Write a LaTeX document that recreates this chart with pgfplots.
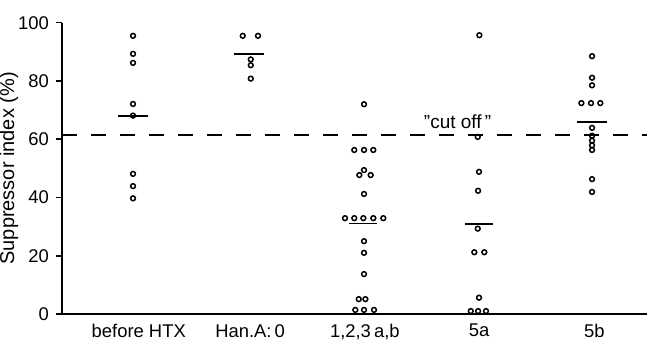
\documentclass[border=0pt]{standalone}
\usepackage{fontspec}
\setmainfont{Liberation Sans}
\usepackage{pgfplots}
\pgfplotsset{compat=1.18}
\begin{document}
\begin{tikzpicture}
\begin{axis}[
  scale only axis,
  width=292.5pt, height=145.65pt,
  xmin=-0.619, xmax=4.479, ymin=0, ymax=100,
  axis x line=bottom, axis y line=left,
  axis line style={-, line width=0.8pt},
  xtick={0.05,1.02,2.02,3.015,4.02},
  xticklabels={before HTX, Han.A:\,0, {1,2,3\,a,b}, 5a, 5b},
  xtick style={draw=none},
  ytick={0,20,40,60,80,100},
  tick align=outside,
  major tick length=3pt,
  ytick style={line width=0.8pt, black},
  tick label style={font=\fontsize{9.2}{10}\selectfont},
  xticklabel style={yshift=1.4pt},
  /pgf/number format/assume math mode=true,
  ylabel={Suppressor index (\%)},
  ylabel style={at={(axis description cs:-0.082,0.5)}, anchor=base, rotate=0, font=\fontsize{10}{12}\selectfont},
  clip=false,
  every axis plot/.append style={black},
]
% cut-off line
\addplot[line width=0.7pt, dash pattern=on 7.5pt off 7pt] coordinates {(-0.619,61.5) (4.479,61.5)};
\node[anchor=base, font=\fontsize{9.5}{10}\selectfont] at (axis cs:2.828,63.7) {"cut off\,"};
% group means
\addplot[line width=0.75pt] coordinates {(-0.13,68) (0.13,68)};
\addplot[line width=0.75pt] coordinates {(0.88,89.2) (1.14,89.2)};
\addplot[line width=0.75pt] coordinates {(1.882,31.1) (2.126,31.1)};
\addplot[line width=0.75pt] coordinates {(2.893,30.9) (3.135,30.9)};
\addplot[line width=0.75pt] coordinates {(3.87,65.9) (4.13,65.9)};
% individual values
\pgfplotsset{dots/.style={only marks, mark=o, mark size=1.2pt, mark options={line width=0.75pt}}}
\addplot[dots] coordinates {
 (0,95.5) (0,89.3) (0,86.2) (0,72.1) (0,68.1) (0,48.1) (0,43.9) (0,39.7)};
\addplot[dots] coordinates {
 (0.956,95.5) (1.089,95.5) (1.026,87.4) (1.026,85.4) (1.026,80.8)};
\addplot[dots] coordinates {
 (2.013,72.0)
 (1.928,56.3) (2.013,56.3) (2.094,56.3)
 (1.972,47.7) (2.013,49.4) (2.071,47.7)
 (2.013,41.2)
 (1.847,32.9) (1.928,32.9) (2.007,32.9) (2.094,32.9) (2.181,32.9)
 (2.013,25.0) (2.013,21.0) (2.013,13.7)
 (1.967,5.1) (2.025,5.1)
 (1.937,1.4) (2.013,1.4) (2.100,1.4)};
\addplot[dots] coordinates {
 (3.018,95.7) (3.004,60.8) (3.015,48.8) (3.007,42.3) (3.004,29.3)
 (2.974,21.2) (3.061,21.2) (3.015,5.6)
 (2.943,1.0) (3.007,1.0) (3.076,1.0)};
\addplot[dots] coordinates {
 (4,88.5) (4,81.1) (4,78.5)
 (3.907,72.4) (3.991,72.4) (4.072,72.4)
 (4,63.9) (4,61.2) (4,59.5) (4,57.9) (4,56.3)
 (4,46.3) (4,41.9)};
\coordinate (BL) at (rel axis cs:0,0);
\coordinate (TR) at (rel axis cs:1,1);
\end{axis}
\pgfresetboundingbox
\path[use as bounding box] ([xshift=-31pt,yshift=-13.5pt]BL) rectangle ([yshift=11.35pt]TR);
\end{tikzpicture}
\end{document}
